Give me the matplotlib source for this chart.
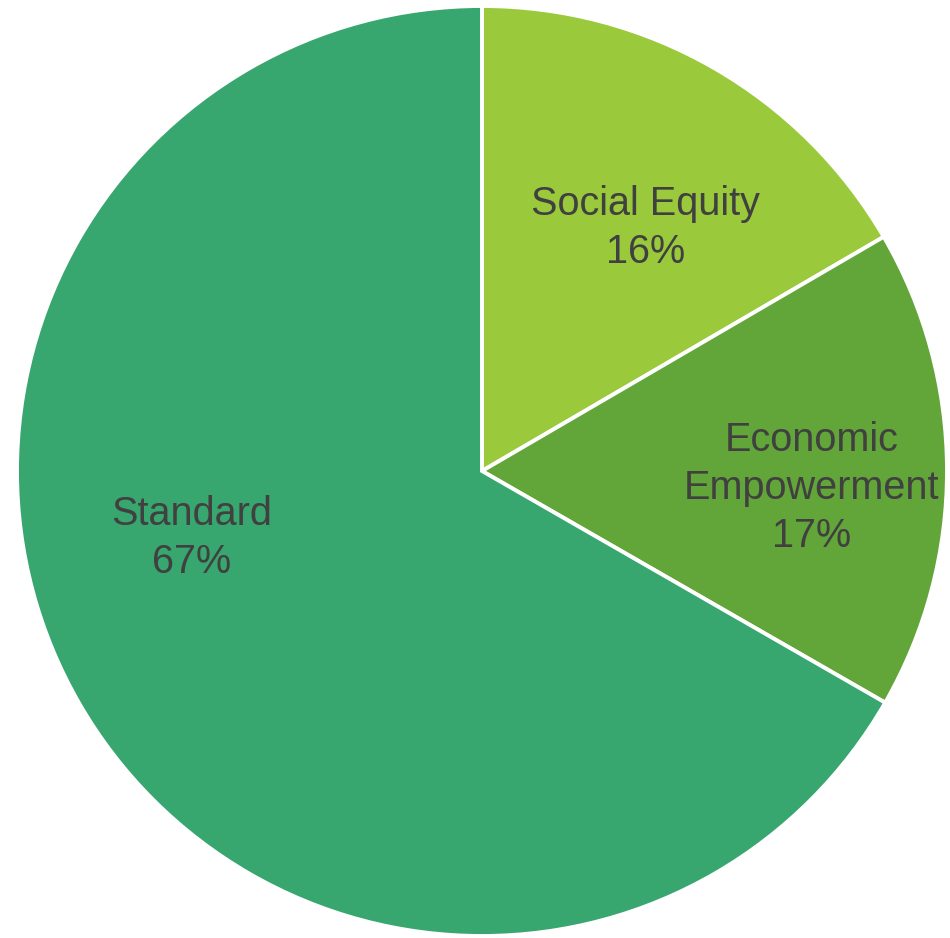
import numpy as np
import matplotlib
matplotlib.use('Agg')
import matplotlib.pyplot as plt

# slice values (share of total), clockwise from 12 o'clock
categories = ["Social Equity", "Economic\nEmpowerment", "Standard"]
values = [16.6, 16.7, 66.7]
pct_labels = ["16%", "17%", "67%"]
colors = ["#9aca3c", "#62a539", "#38a66f"]

# label placement (fraction of radius, angle in degrees)
label_pos = [(0.63, 56), (0.71, -3), (0.64, 193)]

fig = plt.figure(figsize=(9.5, 9.38), dpi=100)
ax = fig.add_axes([17 / 950, 2 / 938, 930 / 950, 930 / 938])

ax.pie(values, colors=colors, startangle=90, counterclock=False,
       radius=1.0, wedgeprops=dict(edgecolor="white", linewidth=2.8))

for (r, a), cat, pct in zip(label_pos, categories, pct_labels):
    x = r * np.cos(np.radians(a))
    y = r * np.sin(np.radians(a))
    ax.text(x, y, cat + "\n" + pct, ha="center", va="center",
            fontsize=28.5, color="#404040", family="Liberation Sans",
            linespacing=1.33)

ax.set_xlim(-1, 1)
ax.set_ylim(-1, 1)
ax.set_aspect("equal")
ax.axis("off")

fig.savefig("out.png", dpi=100)
